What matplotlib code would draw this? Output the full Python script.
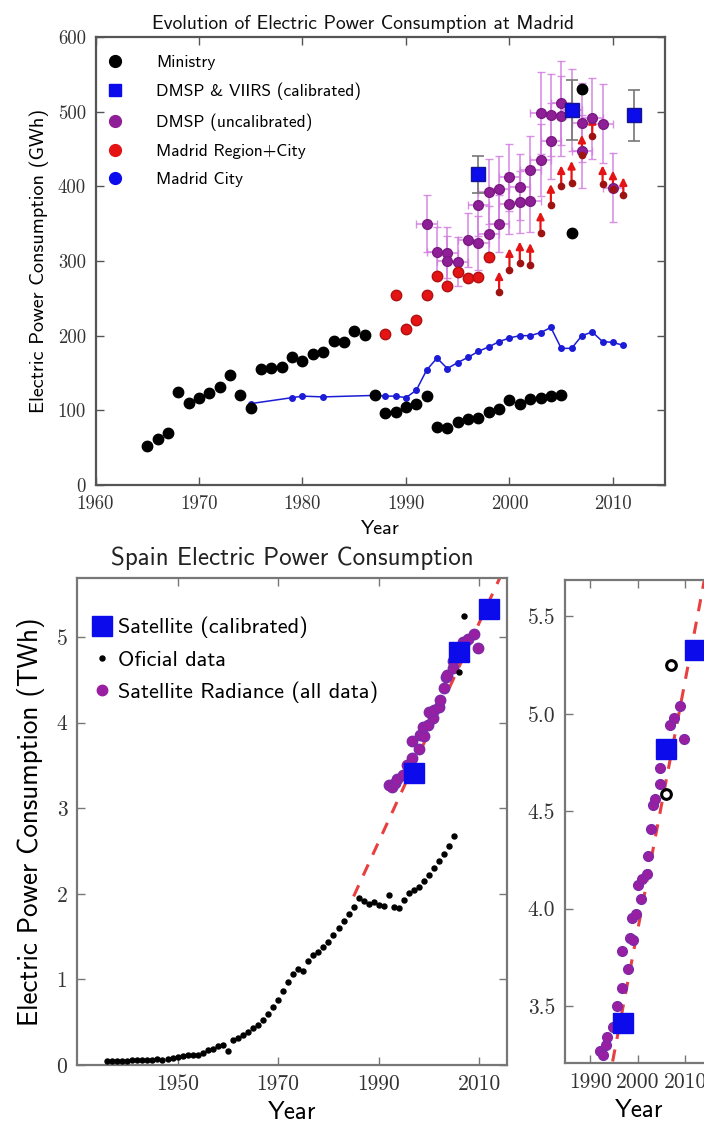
import matplotlib
matplotlib.use('Agg')
import matplotlib.pyplot as plt
from matplotlib.lines import Line2D

SANS = 'cmss10'
SERIF = 'cmr10'
plt.rcParams['axes.formatter.use_mathtext'] = True

# ---------------- Top panel data: Madrid (GWh) ----------------
ministry_years = [1965, 1966, 1967, 1968, 1969, 1970, 1971, 1972, 1973, 1974, 1975,
                  1976, 1977, 1978, 1979, 1980, 1981, 1982, 1983, 1984, 1985, 1986,
                  1987, 1988, 1989, 1990, 1991, 1992, 1993, 1994, 1995, 1996, 1997,
                  1998, 1999, 2000, 2001, 2002, 2003, 2004, 2005, 2006, 2007]
ministry_values = [52, 61, 69, 125, 110, 116, 123, 131, 147, 120, 103,
                   156, 157, 158, 172, 166, 175, 178, 193, 192, 206, 201,
                   121, 96, 98, 104, 108, 119, 78, 77, 84, 89, 90,
                   98, 102, 114, 108, 115, 116, 119, 121, 337, 530]

city_years = [1975, 1979, 1980, 1982, 1987, 1988, 1989, 1990, 1991, 1992, 1993, 1994,
              1995, 1996, 1997, 1998, 1999, 2000, 2001, 2002, 2003, 2004, 2005, 2006,
              2007, 2008, 2009, 2010, 2011]
city_values = [109, 117, 119, 118, 120, 119, 119, 117, 127, 154, 170, 156,
               164, 171, 179, 185, 192, 197, 200, 200, 204, 211, 183, 183,
               200, 205, 192, 191, 187]

region_years = [1988, 1989, 1990, 1991, 1992, 1993, 1994, 1995, 1996, 1997, 1998]
region_values = [202, 255, 209, 221, 255, 280, 267, 285, 277, 279, 305]

limit_years = [1999, 2000, 2001, 2002, 2003, 2004, 2005, 2006, 2007, 2008, 2009, 2010, 2011]
limit_base = [258, 288, 297, 295, 338, 375, 400, 405, 442, 468, 403, 396, 388]
limit_tip = [286, 317, 326, 324, 366, 403, 428, 434, 469, 494, 428, 421, 412]

dmsp_years = [1992, 1993, 1994, 1994, 1995, 1996, 1997, 1997, 1998, 1998, 1999, 1999,
              2000, 2000, 2001, 2001, 2002, 2002, 2003, 2003, 2004, 2004, 2005, 2005,
              2006, 2007, 2007, 2008, 2009, 2010]
dmsp_values = [350, 312, 311, 300, 299, 328, 375, 324, 393, 336, 397, 350,
               412, 377, 399, 379, 422, 381, 435, 498, 461, 496, 512, 494,
               502, 485, 447, 491, 484, 398]
dmsp_yerr = [38, 34, 34, 33, 33, 36, 41, 36, 43, 37, 44, 38,
             45, 41, 44, 42, 46, 42, 48, 55, 51, 55, 56, 54,
             55, 53, 49, 54, 53, 46]
dmsp_xerr = 1.0

calib_years = [1997, 2006, 2012]
calib_values = [416, 502, 495]
calib_err = [25, 40, 34]

# ---------------- Bottom panels data: Spain (TWh) ----------------
official_years = list(range(1936, 2006))
official_values = [0.05, 0.05, 0.05, 0.05, 0.05, 0.055, 0.055, 0.055, 0.06, 0.06,
                   0.065, 0.06, 0.075, 0.085, 0.095, 0.10, 0.115, 0.12, 0.12, 0.14,
                   0.175, 0.19, 0.225, 0.23, 0.165, 0.29, 0.32, 0.355, 0.38, 0.43,
                   0.47, 0.53, 0.60, 0.68, 0.76, 0.87, 0.97, 1.06, 1.12, 1.10,
                   1.22, 1.28, 1.32, 1.38, 1.44, 1.52, 1.60, 1.68, 1.76, 1.85,
                   1.95, 1.92, 1.88, 1.90, 1.87, 1.86, 1.99, 1.85, 1.83, 1.93,
                   2.01, 2.05, 2.08, 2.15, 2.22, 2.30, 2.38, 2.46, 2.56, 2.68]
official_recent_years = [2006, 2007]
official_recent_values = [4.59, 5.25]

radiance_years = [1992.0, 1992.6, 1993.3, 1993.6, 1994.9, 1995.7, 1996.7, 1996.6, 1998.0,
                  1998.3, 1999.0, 1998.8, 1999.7, 2000.7, 2000.0, 2000.9, 2001.9, 2002.2,
                  2002.9, 2003.3, 2003.6, 2004.8, 2004.7, 2006.1, 2006.7, 2007.7, 2008.9,
                  2009.8]
radiance_values = [3.27, 3.25, 3.30, 3.34, 3.39, 3.50, 3.59, 3.78, 3.69,
                   3.85, 3.84, 3.95, 3.97, 4.05, 4.12, 4.15, 4.18, 4.27,
                   4.41, 4.53, 4.56, 4.64, 4.72, 4.81, 4.94, 4.98, 5.04,
                   4.87]

sat_years = [1997, 2006, 2012]
sat_values = [3.41, 4.82, 5.33]

trend_start_year = 1985
trend_start_value = 1.97
trend_slope = 0.128
trend_end_year = 2016

# ---------------- Styling ----------------
C_PURPLE = '#8f1f96'
C_ERR = '#d27ee0'
C_BLUE = '#0b0bec'
C_RED = '#e51414'
C_DRED = '#9e1212'
C_CITY = '#1c1cd6'
C_RAD = '#9a1ea2'

W, H = 704, 1128
fig = plt.figure(figsize=(W / 100, H / 100), dpi=100)


def px_axes(l, t, r, b):
    return fig.add_axes([l / W, 1 - b / H, (r - l) / W, (b - t) / H])


def style_axes(ax, fs, color):
    for s in ax.spines.values():
        s.set_color(color)
        s.set_linewidth(1.6)
    ax.tick_params(direction='in', top=True, right=True, length=6, width=1,
                   color=color, labelsize=fs, pad=7)
    for lab in ax.get_xticklabels() + ax.get_yticklabels():
        lab.set_fontfamily(SERIF)
        lab.set_color('#333333')


# ---------------- Top panel ----------------
ax1 = px_axes(95.5, 37, 664.7, 485)
ax1.set_xlim(1960, 2015)
ax1.set_ylim(0, 600)

ax1.errorbar(dmsp_years, dmsp_values, yerr=dmsp_yerr, xerr=dmsp_xerr, fmt='none',
             ecolor=C_ERR, elinewidth=1.2, capsize=3, capthick=1.0, alpha=0.85, zorder=2)
ax1.plot(dmsp_years, dmsp_values, 'o', color=C_PURPLE, mec='#7a1a82', ms=7, zorder=4)

ax1.plot(city_years, city_values, '-o', color=C_CITY, lw=1.1, ms=4, zorder=3)
ax1.plot(region_years, region_values, 'o', color=C_RED, mec='#b01010', ms=7.5, zorder=4)

for yr, b, t in zip(limit_years, limit_base, limit_tip):
    ax1.annotate('', xy=(yr, t), xytext=(yr, b),
                 arrowprops=dict(arrowstyle='-|>', color=C_RED, lw=1.6,
                                 mutation_scale=11, shrinkA=0, shrinkB=0), zorder=3)
ax1.plot(limit_years, limit_base, 'o', color=C_DRED, ms=4.5, zorder=4)

ax1.errorbar(calib_years, calib_values, yerr=calib_err, fmt='none', ecolor='#777777',
             elinewidth=1.2, capsize=4, capthick=1.2, zorder=3)
ax1.plot(calib_years, calib_values, 's', color=C_BLUE, mec='#151590', ms=10.5, zorder=5)
ax1.plot(ministry_years, ministry_values, 'o', color='black', ms=7.5, zorder=6)

ax1.set_xticks([1960, 1970, 1980, 1990, 2000, 2010],
               ['1960', '1970', '1980', '1990', '2000', '2010'])
ax1.set_yticks([0, 100, 200, 300, 400, 500, 600],
               ['0', '100', '200', '300', '400', '500', '600'])
style_axes(ax1, 13.5, '#555555')
ax1.set_title('Evolution of Electric Power Consumption at Madrid', fontfamily=SANS,
              fontsize=14, pad=6, color='#111111', x=0.47)
ax1.set_xlabel('Year', fontfamily=SANS, fontsize=14.5, labelpad=5)
ax1.set_ylabel('Electric Power Consumption (GWh)', fontfamily=SANS, fontsize=14.5,
               labelpad=6)

h1 = [Line2D([], [], ls='none', marker='o', color='black', ms=8.5),
      Line2D([], [], ls='none', marker='s', color=C_BLUE, ms=9),
      Line2D([], [], ls='none', marker='o', color=C_PURPLE, ms=8.5),
      Line2D([], [], ls='none', marker='o', color=C_RED, ms=8.5),
      Line2D([], [], ls='none', marker='o', color=C_BLUE, ms=8.5)]
l1 = ['Ministry', 'DMSP & VIIRS (calibrated)', 'DMSP (uncalibrated)',
      'Madrid Region+City', 'Madrid City']
ax1.legend(h1, l1, loc='upper left', bbox_to_anchor=(0.0197, 0.961),
           frameon=False, handlelength=1.0, handletextpad=1.86,
           labelspacing=0.75, borderpad=0, borderaxespad=0,
           prop={'family': SANS, 'size': 12.5})

# ---------------- Bottom-left panel ----------------
ax2 = px_axes(77, 578, 507, 1065)
ax2.set_xlim(1930, 2015.5)
ax2.set_ylim(0, 5.69)
tx = [trend_start_year, trend_end_year]
ty = [trend_start_value, trend_start_value + trend_slope * (trend_end_year - trend_start_year)]
ax2.plot(tx, ty, '--', color='#e84040', lw=2.2, dashes=(4, 3.5), zorder=2)
ax2.plot(official_years + official_recent_years, official_values + official_recent_values,
         'o', color='black', ms=3.6, zorder=4)
ax2.plot(radiance_years, radiance_values, 'o', color=C_RAD, mec='#7d2aa8', ms=7.5, zorder=3)
ax2.plot(sat_years, sat_values, 's', color=C_BLUE, ms=15, zorder=3)
ax2.set_xticks([1950, 1970, 1990, 2010], ['1950', '1970', '1990', '2010'])
ax2.set_yticks([0, 1, 2, 3, 4, 5], ['0', '1', '2', '3', '4', '5'])
style_axes(ax2, 15.5, '#777777')
ax2.set_title('Spain Electric Power Consumption', fontfamily=SANS, fontsize=18,
              pad=9, color='#222222')
ax2.set_xlabel('Year', fontfamily=SANS, fontsize=18, labelpad=5)
ax2.set_ylabel('Electric Power Consumption (TWh)', fontfamily=SANS, fontsize=19.5,
               labelpad=8)

h2 = [Line2D([], [], ls='none', marker='s', color=C_BLUE, ms=15),
      Line2D([], [], ls='none', marker='o', color='black', ms=3.6),
      Line2D([], [], ls='none', marker='o', color=C_RAD, ms=7.5)]
l2 = ['Satellite (calibrated)', 'Oficial data', 'Satellite Radiance (all data)']
ax2.legend(h2, l2, loc='upper left', bbox_to_anchor=(0.034, 0.92), frameon=False,
           handlelength=0.9, handletextpad=0.3, labelspacing=0.52, borderpad=0,
           borderaxespad=0, prop={'family': SANS, 'size': 16})

# ---------------- Bottom-right panel (zoom) ----------------
ax3 = px_axes(565, 580, 565 + 31.3 * 4.75, 1063)
ax3.set_xlim(1984.7, 2016.0)
ax3.set_ylim(3.207, 5.687)
ax3.plot(tx, ty, '--', color='#e84040', lw=2.2, dashes=(4, 3.5), zorder=2)
ax3.plot(radiance_years, radiance_values, 'o', color=C_RAD, mec='#7d2aa8', ms=7, zorder=3)
ax3.plot(sat_years, sat_values, 's', color=C_BLUE, ms=14, zorder=4)
ax3.plot(official_recent_years, official_recent_values, 'o', mfc='none', mec='black',
         mew=2.2, ms=7, zorder=5)
ax3.set_xticks([1990, 2000, 2010], ['1990', '2000', '2010'])
ax3.set_yticks([3.5, 4.0, 4.5, 5.0, 5.5], ['3.5', '4.0', '4.5', '5.0', '5.5'])
style_axes(ax3, 15.5, '#777777')
ax3.set_xlabel('Year', fontfamily=SANS, fontsize=18, labelpad=5)

fig.savefig('out.png', dpi=100)
